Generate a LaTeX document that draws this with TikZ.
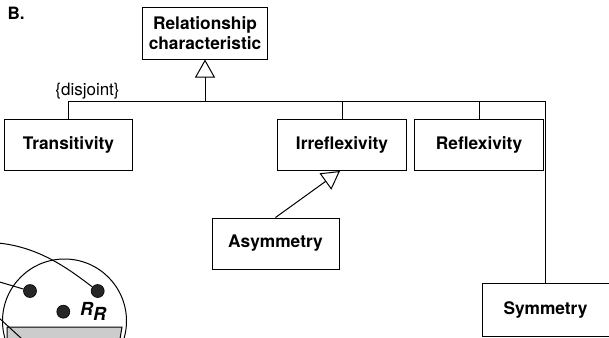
\documentclass[tikz,border=0pt]{standalone}
\usepackage{fontspec}
\setmainfont{TeX Gyre Heros}
\usepackage{tikz}
\usetikzlibrary{arrows.meta,positioning}

\begin{document}
\begin{tikzpicture}[
    x=1bp, y=-1bp,
    font=\fontsize{17bp}{20bp}\selectfont,
    every path/.style={line width=1bp},
    classbox/.style={draw, align=center, font=\fontsize{17.3bp}{20bp}\selectfont\bfseries, minimum width=127bp, minimum height=51bp, inner sep=2bp},
    gen/.style={-{Triangle[open, width=20bp, length=18bp]}},
    tag/.style={inner sep=0pt},
    blob/.style={circle, fill=black!85, draw=black, line width=0.6bp, minimum size=13bp, inner sep=0pt}
]
    \useasboundingbox (0,0) rectangle (609,337);
    \node[tag, anchor=west, font=\fontsize{17bp}{20bp}\selectfont\bfseries] (panel) at (7,13) {B.};

    \node[classbox, minimum width=125bp, minimum height=52bp] (rel) at (205,33) {Relationship\\characteristic};
    \node[classbox] (trans) at (68.5,144.5) {Transitivity};
    \node[classbox, minimum width=129bp] (irr) at (342,145) {Irreflexivity};
    \node[classbox, minimum width=129bp, right=7bp of irr] (refl) {Reflexivity};
    \node[classbox] (asym) at (275.5,243.5) {Asymmetry};
    \node[classbox, minimum height=53bp] (sym) at (545.5,309.5) {Symmetry};
    \node[tag] (disj) at (87.5,91) {\{disjoint\}};

    \coordinate (joint) at (205,101);
    \draw (trans.north) -- (trans.north |- joint) -- (sym.north |- joint) -- (sym.north);
    \draw (irr.north) -- (irr.north |- joint);
    \draw (refl.north) -- (refl.north |- joint);
    \draw[gen] (joint) -- (rel.south);
    \draw[gen] (asym.north) -- ([xshift=-2bp]irr.south);

    % cut-off part of the neighbouring panel
    \draw[fill=black!20] (7,327) -- (122,327) -- (119,345) -- (7,345) -- cycle;
    \draw (64.5,321) circle[radius=62];
    \node[blob] (d1) at (30,291) {};
    \node[blob] (d2) at (97.7,291) {};
    \node[blob] (d3) at (63.3,311.7) {};
    \coordinate (e1) at (-2,243);
    \coordinate (e2) at (-2,281.5);
    \coordinate (e3) at (-2,317);
    \coordinate (e4) at (22,339);
    \draw (e1) .. controls (40,247) and (70,270) .. (d2);
    \draw (e2) -- (d1);
    \draw (e3) -- (e4);
    \node[tag, font=\fontsize{18bp}{20bp}\selectfont\bfseries\itshape] (rr) at (93,311) {R\raisebox{-0.5ex}{R}};
\end{tikzpicture}
\end{document}
